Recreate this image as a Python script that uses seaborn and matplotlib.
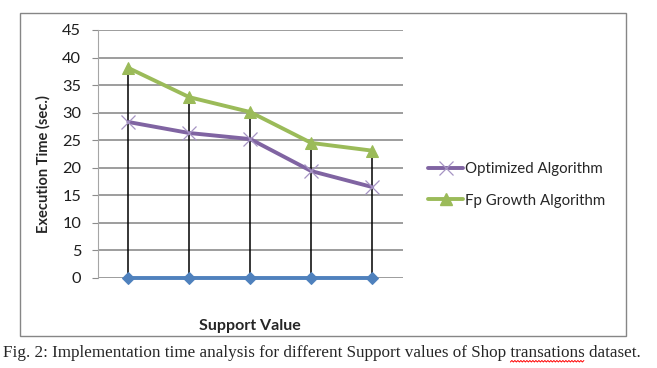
import numpy as np
import pandas as pd
import seaborn as sns
from matplotlib import pyplot as plt
from matplotlib.lines import Line2D
from matplotlib.patches import Rectangle

# Data
support_points = [1, 2, 3, 4, 5]
base_values = [0, 0, 0, 0, 0]
optimized_values = [28.3, 26.3, 25.2, 19.4, 16.5]
fp_growth_values = [38.1, 32.8, 30.1, 24.5, 23.1]
y_ticks = list(range(0, 50, 5))
series_names = ["Base", "Optimized Algorithm", "Fp Growth Algorithm"]
caption = "Fig. 2: Implementation time analysis for different Support values of Shop transations dataset."
misspelt = "transations"

df = pd.DataFrame({
    "support": support_points * 3,
    "time": base_values + optimized_values + fp_growth_values,
    "series": np.repeat(series_names, len(support_points)),
})

sns.set_style("white")
plt.rcParams["font.family"] = ["Lato", "DejaVu Sans"]

fig = plt.figure(figsize=(6.57, 3.68), dpi=100)
ax = fig.add_axes([0.149, 0.2446, 0.464, 0.674])

# Chart frame
fig.patches.append(Rectangle((20 / 657, 1 - 336 / 368), 606 / 657, 323 / 368,
                             transform=fig.transFigure, fill=False,
                             edgecolor="#868686", linewidth=1.0))

# Drop lines from the top series down to zero
ax.vlines(support_points, base_values, fp_growth_values, color="black",
          linewidth=1.1, zorder=2)

styles = {
    "Base": dict(color="#4F81BD", marker="D", markersize=6.5, mec="#4F81BD"),
    "Optimized Algorithm": dict(color="#8064A2", marker="x", markersize=10,
                                mec="#A593C3", mew=0.9),
    "Fp Growth Algorithm": dict(color="#9BBB59", marker="^", markersize=8,
                                mec="#9BBB59"),
}
for name in series_names:
    sub = df[df["series"] == name]
    sns.lineplot(data=sub, x="support", y="time", linewidth=2.8, ax=ax,
                 zorder=3, clip_on=False, **styles[name])

ax.set_xlim(0.5, 5.5)
ax.set_ylim(0, 45)
ax.set_yticks(y_ticks)
ax.set_xticks([])
ax.yaxis.grid(True, color="#8C8C8C", linewidth=1.2)
ax.set_axisbelow(True)
for side in ["top", "right", "bottom"]:
    ax.spines[side].set_visible(False)
ax.spines["left"].set_color("#A6A6A6")
ax.tick_params(axis="y", length=4, color="#8C8C8C", labelsize=11.8,
               labelcolor="#1F1F1F", left=True, pad=8)
ax.set_xlabel("Support Value", fontsize=11.5, fontweight="bold")
ax.xaxis.set_label_coords(0.5, -0.165)
ax.set_ylabel("Execution Time (sec.)", fontsize=10.5, fontweight="bold")
ax.yaxis.set_label_coords(-0.155, 0.46)

legend_handles = [
    Line2D([], [], linewidth=2.8, **styles[name]) for name in series_names[1:]
]
ax.legend(legend_handles, series_names[1:],
          loc="center left", bbox_to_anchor=(1.04, 0.375), frameon=False,
          fontsize=10.8, handlelength=2.3, handletextpad=0.15, labelspacing=1.15)

# Caption with the spell-check underline
cap_x, cap_y = 3 / 657, 1 - 353 / 368
cap_size = 12.3
txt = fig.text(cap_x, cap_y, caption, family="Liberation Serif", fontsize=cap_size,
               va="center", ha="left")
fig.canvas.draw()
renderer = fig.canvas.get_renderer()
prefix = caption[:caption.index(misspelt)]
probe = fig.text(cap_x, cap_y, prefix, family="Liberation Serif", fontsize=cap_size,
                 va="center", ha="left")
x0 = probe.get_window_extent(renderer).x1
probe2 = fig.text(cap_x, cap_y, prefix + misspelt, family="Liberation Serif",
                  fontsize=cap_size, va="center", ha="left")
x1 = probe2.get_window_extent(renderer).x1
probe.remove()
probe2.remove()
base_y = txt.get_window_extent(renderer).y0 - 1
wx = np.arange(x0, x1, 1.5)
wy = base_y + np.where(np.arange(len(wx)) % 2 == 0, 0.0, 1.5)
inv = fig.transFigure.inverted()
pts = inv.transform(np.column_stack([wx, wy]))
fig.add_artist(Line2D(pts[:, 0], pts[:, 1], color="red", linewidth=0.7,
                      transform=fig.transFigure))

fig.savefig("out.png", dpi=100)
